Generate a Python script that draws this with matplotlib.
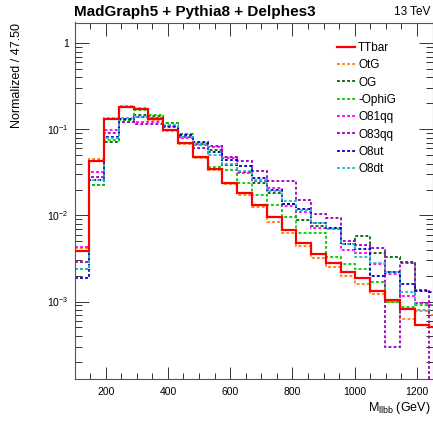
import matplotlib
matplotlib.use("Agg")
import matplotlib.pyplot as plt
import numpy as np
from matplotlib.ticker import FixedLocator, FuncFormatter, MultipleLocator, LogLocator, NullFormatter

plt.rcParams["font.family"] = ["Liberation Sans", "DejaVu Sans"]
plt.rcParams["mathtext.fontset"] = "custom"
plt.rcParams["mathtext.rm"] = "Liberation Sans"
plt.rcParams["mathtext.it"] = "Liberation Sans:italic"

# bin edges: 47.5 GeV wide, starting at 100 GeV
bin_start = 100.0
bin_width = 47.5
n_bins = 25

TTbar = [0.0039, 0.043, 0.132, 0.182, 0.170, 0.132, 0.098, 0.069, 0.048, 0.035, 0.0241, 0.0184, 0.0132,
         0.0096, 0.0068, 0.0048, 0.0036, 0.0028, 0.0022, 0.0019, 0.00133, 0.00104, 0.00083, 0.00053, 0.0005]
OtG = [0.0042, 0.045, 0.137, 0.187, 0.175, 0.128, 0.095, 0.067, 0.047, 0.034, 0.0232, 0.0172, 0.0124,
       0.0085, 0.0063, 0.0044, 0.0032, 0.0025, 0.0020, 0.0016, 0.00122, 0.00098, 0.00062, 0.00077, 0.0007]
OG = [0.0024, 0.0224, 0.072, 0.128, 0.147, 0.144, 0.118, 0.088, 0.068, 0.058, 0.039, 0.032, 0.0237,
      0.018, 0.0137, 0.0089, 0.0075, 0.0072, 0.0047, 0.0057, 0.0037, 0.0033, 0.0029, 0.00095, 0.0009]
OphiG = [0.0024, 0.0224, 0.075, 0.128, 0.168, 0.146, 0.118, 0.088, 0.070, 0.037, 0.034, 0.024, 0.0173,
         0.0133, 0.0097, 0.0063, 0.0063, 0.0033, 0.0027, 0.0024, 0.0017, 0.0010, 0.00086, 0.0009, 0.0009]
O81qq = [0.0043, 0.032, 0.098, 0.132, 0.123, 0.123, 0.108, 0.079, 0.066, 0.063, 0.047, 0.031, 0.025,
         0.021, 0.013, 0.011, 0.0072, 0.0070, 0.0040, 0.0037, 0.0027, 0.0021, 0.00115, 0.00095, 0.0009]
O83qq = [0.0029, 0.028, 0.090, 0.123, 0.115, 0.116, 0.106, 0.082, 0.061, 0.064, 0.048, 0.043, 0.033,
         0.025, 0.0254, 0.0151, 0.0104, 0.0093, 0.0050, 0.0045, 0.0042, 0.0003, 0.0028, 0.00137, 1e-7]
O8ut = [0.0019, 0.026, 0.082, 0.131, 0.138, 0.135, 0.110, 0.086, 0.071, 0.055, 0.044, 0.0375, 0.027,
        0.020, 0.0137, 0.0118, 0.0081, 0.0072, 0.0046, 0.0041, 0.0020, 0.0022, 0.0016, 0.00134, 0.0013]
O8dt = [0.0024, 0.026, 0.080, 0.135, 0.140, 0.136, 0.112, 0.082, 0.066, 0.050, 0.040, 0.033, 0.026,
        0.019, 0.0148, 0.0115, 0.0081, 0.0070, 0.0046, 0.0033, 0.0028, 0.0022, 0.0013, 0.0008, 0.0008]

labels = ["TTbar", "OtG", "OG", "-OphiG", "O81qq", "O83qq", "O8ut", "O8dt"]
series = [TTbar, OtG, OG, OphiG, O81qq, O83qq, O8ut, O8dt]
colors = ["#ff0000", "#ff7f0e", "#006400", "#00cc00", "#ff00ff", "#9900bb", "#0000cc", "#22bbbb"]

edges = bin_start + bin_width * np.arange(n_bins + 1)

fig = plt.figure(figsize=(4.33, 4.21), dpi=100)
ax = fig.add_axes([74.5 / 433, 1 - 379 / 421, (432.5 - 74.5) / 433, (379 - 22.5) / 421])

for i, (lab, vals, col) in enumerate(zip(labels, series, colors)):
    if i == 0:
        ax.stairs(vals, edges, color=col, lw=1.6, baseline=None, label=lab, zorder=3)
    else:
        ax.stairs(vals, edges, color=col, lw=1.3, linestyle=(0, (1.6, 1.2)), baseline=None, label=lab, zorder=2)

ax.set_yscale("log")
ax.set_xlim(100, 1250)
ax.set_ylim(1.26e-4, 1.74)

ax.xaxis.set_major_locator(MultipleLocator(200))
ax.xaxis.set_minor_locator(MultipleLocator(50))
ax.yaxis.set_major_locator(FixedLocator([1e-3, 1e-2, 1e-1, 1]))
ax.yaxis.set_minor_locator(LogLocator(base=10, subs=np.arange(2, 10)))
ax.yaxis.set_minor_formatter(NullFormatter())


def ylab(v, pos):
    e = int(round(np.log10(v)))
    if e == 0:
        return "1"
    return r"$10^{%d}$" % e


ax.yaxis.set_major_formatter(FuncFormatter(ylab))
ax.tick_params(which="both", direction="in", top=True, right=True, labelsize=7.5, width=0.7, colors="#333333",
               labelcolor="black")
ax.tick_params(axis="y", which="major", length=10, pad=4)
ax.tick_params(axis="y", which="minor", length=5)
ax.tick_params(axis="x", which="major", length=9, pad=6)
ax.tick_params(axis="x", which="minor", length=4.5)
for sp in ax.spines.values():
    sp.set_linewidth(0.8)
    sp.set_color("#555555")

fig.text(74 / 433, 1 - 12 / 421, "MadGraph5 + Pythia8 + Delphes3", fontsize=11, fontweight="bold",
         ha="left", va="center")
fig.text(430 / 433, 1 - 12 / 421, "13 TeV", fontsize=8.5, ha="right", va="center")
fig.text(17 / 433, 1 - 23 / 421, "Normalized / 47.50", fontsize=9, rotation=90, ha="center", va="top")
fig.text(431 / 433, 1 - 408 / 421, r"M$_{\mathrm{llbb}}$ (GeV)", fontsize=9, ha="right", va="center")

ax.legend(loc="upper left", bbox_to_anchor=(337 / 433, 1 - 42 / 421), bbox_transform=fig.transFigure,
          frameon=False, fontsize=8.5, handlelength=1.55, handletextpad=0.25, labelspacing=0.45, borderpad=0,
          borderaxespad=0)

fig.savefig("out.png", dpi=100)
